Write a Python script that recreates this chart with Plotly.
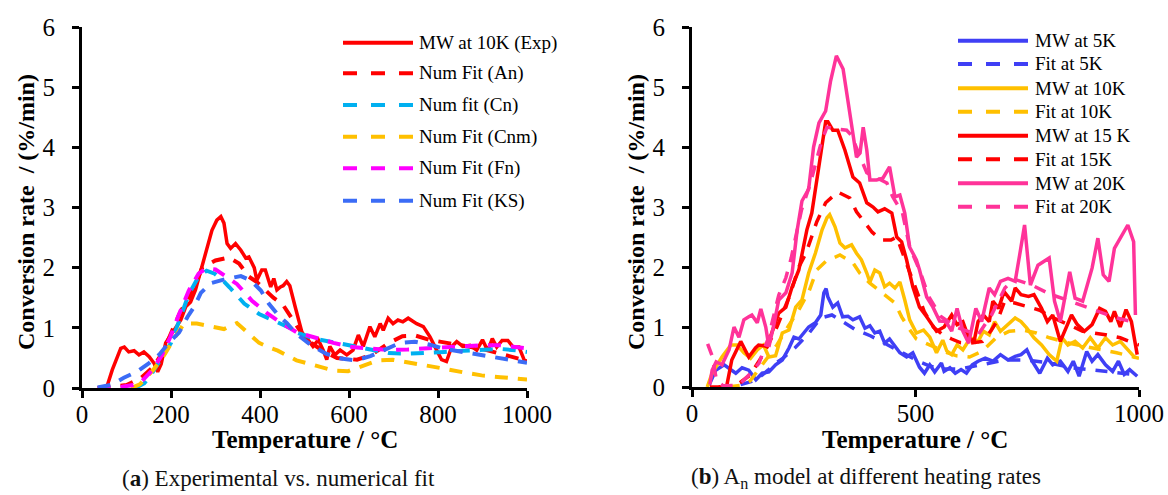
import plotly.graph_objects as go

W, H = 1168, 495
FONT = "Liberation Serif"

# ---------- (a) measured curve at 10 K/min and numerical fits ----------
exp_10k = [[55, 0], [68, 0.3], [87, 0.66], [95, 0.68], [105, 0.6], [117, 0.62], [128, 0.55], [139, 0.6],
           [151, 0.52], [162, 0.41], [170, 0.27], [178, 0.4], [188, 0.75], [207, 0.96], [222, 1.13],
           [233, 1.35], [244, 1.43], [255, 1.63], [267, 1.96], [281, 2.35], [292, 2.62], [303, 2.79],
           [312, 2.85], [319, 2.74], [326, 2.4], [334, 2.32], [345, 2.4], [357, 2.29], [368, 2.16],
           [375, 2.18], [387, 2.0], [393, 1.79], [404, 1.96], [412, 1.96], [424, 1.68], [431, 1.82],
           [438, 1.63], [446, 1.68], [452, 1.7], [460, 1.77], [467, 1.7], [479, 1.35], [490, 1.02],
           [497, 0.85], [508, 0.8], [519, 0.69], [531, 0.8], [542, 0.63], [550, 0.47], [557, 0.69],
           [568, 0.55], [580, 0.63], [595, 0.55], [609, 0.63], [621, 0.88], [632, 0.69], [647, 1.02],
           [658, 0.85], [670, 1.07], [677, 0.96], [688, 1.16], [699, 1.07], [710, 1.13], [721, 1.1],
           [733, 1.16], [752, 1.07], [767, 1.02], [782, 0.85], [797, 0.63], [808, 0.47], [819, 0.44],
           [831, 0.69], [842, 0.77], [856, 0.69], [872, 0.71], [887, 0.63], [900, 0.8], [912, 0.62],
           [922, 0.82], [932, 0.68], [944, 0.79], [957, 0.79], [969, 0.68], [982, 0.68], [994, 0.46],
           [1000, 0.45]]
fit_an = [[35, 0], [60, 0.02], [100, 0.05], [130, 0.15], [160, 0.35], [182, 0.6], [198, 0.88],
          [220, 1.25], [248, 1.6], [270, 2.0], [300, 2.12], [330, 2.17], [353, 2.07], [375, 1.85],
          [393, 1.76], [430, 1.5], [450, 1.4], [470, 1.17], [490, 0.95], [515, 0.75], [545, 0.6],
          [573, 0.5], [618, 0.47], [650, 0.55], [690, 0.75], [720, 0.86], [750, 0.87], [781, 0.8],
          [815, 0.76], [857, 0.7], [898, 0.65], [940, 0.57], [982, 0.49], [1000, 0.45]]
fit_cn = [[120, 0], [140, 0.08], [157, 0.24], [180, 0.5], [200, 0.75], [220, 1.15], [240, 1.56],
          [262, 1.85], [280, 1.95], [298, 1.9], [315, 1.8], [332, 1.67], [365, 1.4], [398, 1.23],
          [430, 1.13], [467, 1.0], [482, 0.92], [523, 0.82], [565, 0.76], [607, 0.7], [648, 0.63],
          [690, 0.58], [732, 0.57], [773, 0.58], [815, 0.6], [857, 0.62], [898, 0.63], [940, 0.65],
          [982, 0.62], [1000, 0.6]]
fit_cnm = [[110, 0], [130, 0.06], [160, 0.3], [185, 0.55], [205, 0.8], [229, 1.07], [258, 1.07],
           [290, 1.03], [319, 0.98], [348, 1.08], [371, 0.92], [398, 0.75], [425, 0.66], [440, 0.62],
           [482, 0.46], [523, 0.38], [565, 0.29], [598, 0.28], [623, 0.35], [665, 0.46], [698, 0.47],
           [732, 0.43], [773, 0.38], [815, 0.32], [857, 0.26], [898, 0.21], [940, 0.18], [1000, 0.14]]
fit_fn = [[35, 0], [60, 0], [90, 0.02], [115, 0.05], [135, 0.12], [157, 0.29], [180, 0.55],
          [198, 0.84], [215, 1.17], [240, 1.62], [262, 1.9], [280, 1.99], [300, 1.97], [315, 1.89],
          [348, 1.73], [382, 1.45], [415, 1.25], [448, 1.08], [482, 0.93], [523, 0.84], [565, 0.75],
          [607, 0.68], [648, 0.65], [690, 0.63], [732, 0.64], [773, 0.66], [815, 0.68], [857, 0.7],
          [898, 0.71], [940, 0.71], [982, 0.68], [1000, 0.66]]
fit_ks = [[35, 0.01], [65, 0.05], [94, 0.17], [123, 0.27], [150, 0.41], [173, 0.55], [195, 0.75],
          [218, 0.92], [237, 1.18], [252, 1.35], [267, 1.58], [289, 1.74], [322, 1.81], [357, 1.86],
          [379, 1.79], [402, 1.62], [420, 1.4], [440, 1.22], [460, 1.08], [482, 0.9], [515, 0.71],
          [548, 0.57], [582, 0.49], [615, 0.46], [648, 0.53], [682, 0.64], [715, 0.75], [748, 0.77],
          [782, 0.72], [815, 0.65], [857, 0.6], [898, 0.54], [940, 0.49], [990, 0.43], [1000, 0.42]]

# ---------- (b) A_n model at different heating rates ----------
mw_5k = [[38, 0.03], [53, 0.28], [72, 0.37], [87, 0.28], [98, 0.23], [112, 0.32], [127, 0.28],
         [143, 0.12], [157, 0.23], [172, 0.25], [187, 0.37], [202, 0.45], [217, 0.65], [228, 0.83],
         [239, 0.8], [250, 0.9], [261, 1.0], [276, 1.07], [288, 1.2], [295, 1.57], [300, 1.64],
         [304, 1.5], [315, 1.33], [326, 1.4], [337, 1.17], [349, 1.18], [360, 1.12], [375, 1.17],
         [387, 0.98], [398, 1.02], [409, 0.9], [420, 0.93], [431, 0.73], [442, 0.8], [454, 0.67],
         [465, 0.57], [480, 0.5], [494, 0.57], [509, 0.33], [520, 0.23], [532, 0.37], [543, 0.25],
         [558, 0.4], [564, 0.26], [577, 0.32], [589, 0.23], [602, 0.29], [614, 0.23], [627, 0.37],
         [640, 0.43], [656, 0.48], [673, 0.43], [690, 0.54], [707, 0.45], [723, 0.51], [736, 0.54],
         [749, 0.62], [761, 0.43], [778, 0.23], [795, 0.48], [807, 0.37], [824, 0.43], [841, 0.26],
         [853, 0.43], [866, 0.18], [883, 0.59], [895, 0.43], [908, 0.54], [925, 0.37], [941, 0.26],
         [954, 0.43], [967, 0.21], [979, 0.29], [996, 0.18]]
fit_5k = [[60, 0.0], [100, 0.02], [132, 0.09], [149, 0.15], [170, 0.28], [187, 0.4], [202, 0.47],
          [230, 0.65], [260, 0.88], [288, 1.15], [313, 1.2], [338, 1.09], [367, 0.95], [400, 0.85],
          [450, 0.65], [509, 0.42], [532, 0.35], [560, 0.3], [600, 0.3], [650, 0.38], [700, 0.45],
          [750, 0.45], [800, 0.4], [850, 0.32], [900, 0.28], [950, 0.24], [1000, 0.2]]
mw_10k = [[34, 0], [45, 0.23], [67, 0.5], [87, 0.7], [101, 0.7], [116, 0.57], [131, 0.48], [146, 0.62],
          [160, 0.7], [172, 0.5], [187, 0.52], [202, 0.9], [217, 0.95], [232, 1.33], [246, 1.45],
          [261, 1.9], [276, 2.23], [291, 2.62], [302, 2.82], [308, 2.87], [320, 2.67], [331, 2.4],
          [342, 2.32], [357, 2.37], [368, 2.23], [379, 2.12], [391, 1.9], [398, 1.75], [409, 1.95],
          [420, 1.9], [431, 1.67], [442, 1.73], [454, 1.65], [465, 1.75], [476, 1.45], [487, 1.12],
          [502, 0.9], [518, 0.95], [532, 0.83], [547, 0.57], [561, 0.78], [570, 0.6], [581, 0.54],
          [593, 0.7], [606, 0.62], [623, 0.82], [640, 0.76], [652, 0.93], [665, 0.87], [677, 1.09],
          [690, 0.93], [707, 1.04], [723, 1.15], [736, 1.09], [749, 0.98], [765, 0.82], [782, 0.7],
          [799, 0.54], [816, 0.43], [828, 0.82], [841, 0.7], [857, 0.76], [874, 0.65], [891, 0.82],
          [908, 0.65], [925, 0.82], [941, 0.7], [958, 0.76], [975, 0.62], [992, 0.48]]
fit_10k = [[80, 0], [112, 0.03], [130, 0.1], [150, 0.3], [170, 0.5], [190, 0.7], [210, 0.95],
           [240, 1.3], [262, 1.6], [279, 1.95], [300, 2.1], [331, 2.2], [360, 2.07], [375, 1.9],
           [398, 1.73], [420, 1.6], [454, 1.4], [469, 1.17], [483, 1.0], [502, 0.8], [539, 0.68],
           [568, 0.58], [592, 0.52], [621, 0.5], [650, 0.6], [680, 0.82], [710, 0.93], [740, 0.95],
           [770, 0.9], [800, 0.82], [850, 0.72], [900, 0.65], [950, 0.57], [1000, 0.48]]
mw_15k = [[40, 0], [70, 0.0], [78, 0.03], [89, 0.45], [109, 0.76], [127, 0.5], [142, 0.65], [149, 0.7],
          [168, 0.68], [179, 0.9], [194, 1.23], [210, 1.33], [224, 1.67], [239, 1.95], [257, 2.62],
          [268, 2.9], [284, 3.67], [299, 4.42], [304, 4.42], [315, 4.28], [326, 4.28], [342, 3.95],
          [360, 3.5], [375, 3.4], [391, 3.07], [405, 3.0], [416, 2.92], [431, 2.97], [447, 2.9],
          [458, 2.5], [469, 2.42], [480, 2.12], [494, 1.67], [509, 1.33], [525, 1.17], [539, 1.0],
          [547, 0.93], [564, 1.0], [581, 1.2], [593, 1.04], [606, 1.09], [619, 0.82], [631, 0.76],
          [640, 1.09], [652, 1.2], [665, 1.09], [673, 1.43], [686, 1.31], [698, 1.59], [715, 1.43],
          [723, 1.65], [736, 1.54], [753, 1.51], [765, 1.54], [782, 1.31], [795, 1.09], [807, 1.2],
          [824, 0.76], [837, 0.98], [849, 1.2], [862, 1.04], [878, 0.93], [895, 1.04], [912, 1.31],
          [925, 1.26], [937, 1.09], [945, 1.26], [958, 1.0], [971, 1.29], [983, 1.09], [996, 0.54]]
fit_15k = [[60, 0], [100, 0.03], [130, 0.2], [160, 0.55], [190, 1.0], [220, 1.55], [239, 2.0],
           [255, 2.23], [279, 2.75], [299, 3.07], [326, 3.25], [353, 3.15], [368, 2.92], [387, 2.73],
           [403, 2.58], [424, 2.45], [445, 2.45], [458, 2.5], [471, 2.23], [490, 1.85], [505, 1.55],
           [520, 1.25], [540, 1.0], [561, 0.87], [581, 0.8], [600, 0.74], [621, 0.73], [650, 0.76],
           [670, 0.95], [684, 1.12], [699, 1.42], [722, 1.4], [755, 1.33], [778, 1.28], [800, 1.18],
           [840, 1.05], [874, 0.93], [925, 0.87], [958, 0.82], [1000, 0.7]]
mw_20k = [[40, 0.04], [45, 0.28], [54, 0.42], [67, 0.37], [83, 0.62], [94, 1.0], [105, 0.83],
          [116, 1.12], [127, 1.17], [134, 1.2], [146, 1.07], [154, 1.3], [165, 1.0], [172, 0.67],
          [184, 1.07], [194, 1.45], [210, 1.57], [224, 1.9], [235, 2.6], [246, 3.1], [261, 3.3],
          [272, 4.0], [284, 4.4], [299, 4.6], [310, 5.1], [323, 5.52], [338, 5.3], [349, 4.78],
          [360, 4.28], [368, 3.83], [376, 3.9], [383, 4.33], [391, 3.95], [398, 3.45], [413, 3.45],
          [427, 3.48], [442, 3.67], [454, 3.17], [465, 3.2], [476, 2.9], [487, 2.33], [502, 2.12],
          [509, 1.95], [525, 1.5], [539, 1.33], [554, 1.1], [568, 1.09], [581, 0.93], [593, 1.31],
          [606, 0.93], [619, 0.73], [635, 1.31], [648, 1.09], [665, 1.65], [677, 1.54], [690, 1.76],
          [707, 1.81], [723, 1.76], [733, 2.2], [744, 2.7], [757, 1.7], [774, 2.03], [799, 2.15],
          [811, 1.43], [824, 1.09], [837, 1.59], [845, 1.92], [857, 1.48], [874, 1.43], [895, 1.98],
          [908, 2.48], [920, 1.87], [933, 1.76], [945, 2.31], [958, 2.48], [975, 2.7], [988, 2.42],
          [992, 1.2]]
fit_20k = [[35, 0.72], [45, 0.52], [55, 0.1], [70, 0.02], [105, 0.03], [131, 0.23], [150, 0.4],
           [170, 0.8], [180, 1.1], [194, 1.53], [210, 1.82], [222, 2.15], [245, 2.95], [265, 3.4],
           [290, 4.1], [302, 4.33], [325, 4.3], [346, 4.28], [356, 4.2], [375, 3.85], [391, 3.57],
           [436, 3.4], [449, 3.17], [471, 2.9], [487, 2.33], [509, 1.95], [530, 1.5], [556, 1.18],
           [590, 1.0], [640, 0.87], [670, 1.2], [700, 1.65], [720, 1.8], [760, 1.7], [800, 1.55],
           [850, 1.42], [900, 1.28], [950, 1.15], [990, 1.08]]

x_ticks_a = [0, 200, 400, 600, 800, 1000]
x_ticks_b = [0, 500, 1000]
y_ticks = [0, 1, 2, 3, 4, 5, 6]

RED, CYAN, GOLD, MAGENTA, KSBLUE = "#FF0000", "#00B0F0", "#FFC000", "#FF00FF", "#3B6CF6"
BLUE, PINK = "#3F3FF5", "#FF3399"
DASH_A = "13px,10px"
DASH_B = "12px,10px"

series_a = [
    ("MW at 10K (Exp)", exp_10k, RED, "solid", 3.5),
    ("Num Fit (An)", fit_an, RED, DASH_A, 4),
    ("Num fit (Cn)", fit_cn, CYAN, DASH_A, 4),
    ("Num Fit (Cnm)", fit_cnm, GOLD, DASH_A, 4),
    ("Num Fit (Fn)", fit_fn, MAGENTA, DASH_A, 4),
    ("Num Fit (KS)", fit_ks, KSBLUE, DASH_A, 4),
]
series_b = [
    ("MW at 5K", mw_5k, BLUE, "solid", 3.5),
    ("Fit at 5K", fit_5k, BLUE, DASH_B, 3.5),
    ("MW at 10K", mw_10k, GOLD, "solid", 3.5),
    ("Fit at 10K", fit_10k, GOLD, DASH_B, 3.5),
    ("MW at 15 K", mw_15k, RED, "solid", 3.5),
    ("Fit at 15K", fit_15k, RED, DASH_B, 3.5),
    ("MW at 20K", mw_20k, PINK, "solid", 3.5),
    ("Fit at 20K", fit_20k, PINK, DASH_B, 3.5),
]


def px(x):
    return x / W


def py(y):
    return 1 - y / H


fig = go.Figure()
for axis_id, group in (("", series_a), ("2", series_b)):
    for name, pts, color, dash, width in group:
        fig.add_trace(go.Scatter(
            x=[p[0] for p in pts], y=[p[1] for p in pts], mode="lines", name=name,
            line=dict(color=color, width=width, dash=dash),
            xaxis="x" + axis_id, yaxis="y" + axis_id, showlegend=False,
        ))

tick_font = dict(family=FONT, size=25, color="black")
axis_common = dict(showline=True, linecolor="black", linewidth=3, ticks="outside",
                   ticklen=7, tickwidth=2.5, tickcolor="black", showgrid=False,
                   zeroline=False, tickfont=tick_font, fixedrange=True, automargin=False)

fig.update_layout(
    width=W, height=H, margin=dict(l=0, r=0, t=0, b=0),
    paper_bgcolor="white", plot_bgcolor="white", showlegend=False,
    xaxis=dict(domain=[px(82), px(527)], range=[0, 1000], tickvals=x_ticks_a,
               anchor="y", ticklabelstandoff=-5, **axis_common),
    yaxis=dict(domain=[py(388), py(27)], range=[0, 6], tickvals=y_ticks,
               anchor="x", ticklabelstandoff=12, **axis_common),
    xaxis2=dict(domain=[px(692), px(1139)], range=[0, 1000], tickvals=x_ticks_b,
                anchor="y2", ticklabelstandoff=-5, **axis_common),
    yaxis2=dict(domain=[py(387), py(27)], range=[0, 6], tickvals=y_ticks,
                anchor="x2", ticklabelstandoff=12, **axis_common),
)

annotations = []
shapes = []

# axis titles
for cx in (305, 915):
    annotations.append(dict(x=px(cx), y=py(439), xref="paper", yref="paper",
                            text="<b>Temperature / °C</b>", showarrow=False,
                            xanchor="center", yanchor="middle",
                            font=dict(family=FONT, size=25, color="black")))
for cx in (26, 636):
    annotations.append(dict(x=px(cx), y=py(212), xref="paper", yref="paper",
                            text="<b>Conversion rate \u00a0/ (%/min)</b>", showarrow=False,
                            textangle=-90, xanchor="center", yanchor="middle",
                            font=dict(family=FONT, size=24, color="black")))

# panel captions
cap_font = dict(family=FONT, size=23, color="#111111")
annotations.append(dict(x=px(278), y=py(478), xref="paper", yref="paper",
                        text="(<b>a</b>) Experimental vs. numerical fit", showarrow=False,
                        xanchor="center", yanchor="middle", font=cap_font))
annotations.append(dict(x=px(866), y=py(478), xref="paper", yref="paper",
                        text="(<b>b</b>) A<sub>n</sub> model at different heating rates",
                        showarrow=False, xanchor="center", yanchor="middle", font=cap_font))

# legends drawn as line samples with text labels
leg_font = dict(family=FONT, size=19, color="black")


def add_legend(group, x0, x1, xt, rows):
    for (name, _, color, dash, _w), yy in zip(group, rows):
        leg_dash = "solid" if dash == "solid" else "14px,14px"
        shapes.append(dict(type="line", xref="paper", yref="paper",
                           x0=px(x0), x1=px(x1), y0=py(yy), y1=py(yy),
                           line=dict(color=color, width=4, dash=leg_dash)))
        annotations.append(dict(x=px(xt), y=py(yy), xref="paper", yref="paper", text=name,
                                showarrow=False, xanchor="left", yanchor="middle", font=leg_font))


add_legend(series_a, 343, 413, 417, [42.7, 73.3, 105, 136.7, 168.3, 200.7])
add_legend(series_b, 958, 1028, 1033, [40.7, 64, 88.3, 111.7, 135.7, 159.3, 183.3, 206.7])

fig.update_layout(annotations=annotations, shapes=shapes)
fig.write_html("out.html")
